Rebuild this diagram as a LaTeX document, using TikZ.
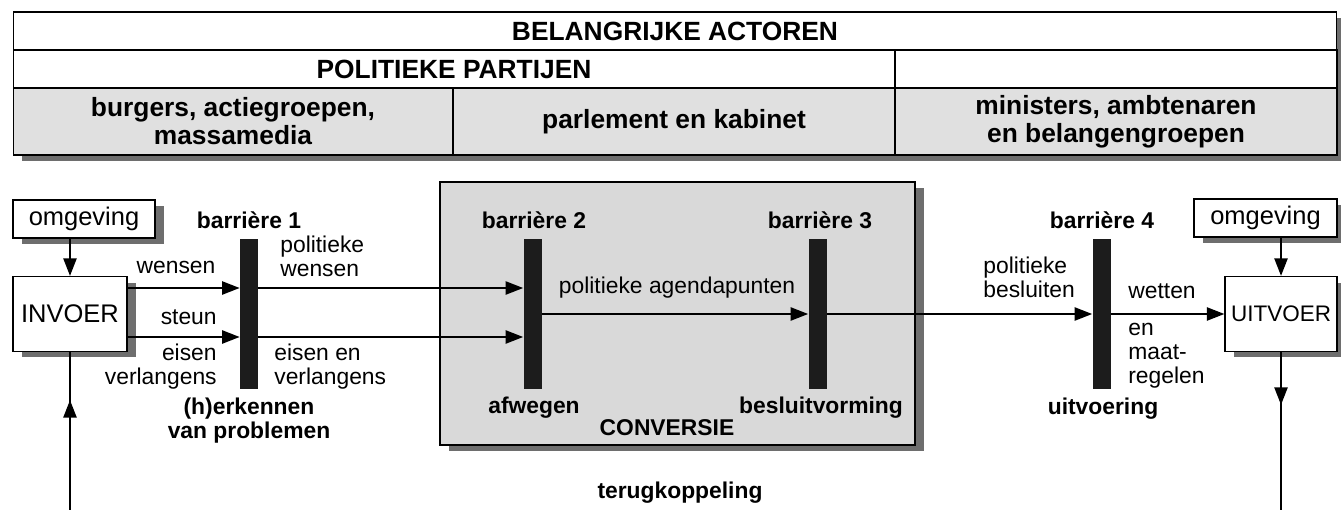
\documentclass[tikz,border=0pt]{standalone}
\usepackage{fontspec}
\setmainfont{Liberation Sans}
\usetikzlibrary{arrows.meta,positioning,shadows,decorations.markings}
\definecolor{CelGrijs}{HTML}{E0E0E0}
\definecolor{ConvGrijs}{HTML}{D9D9D9}
\definecolor{Schaduw}{HTML}{6E6E6E}
\definecolor{Balk}{HTML}{1C1C1C}
\tikzset{
  cel/.style={draw,line width=.6pt,inner sep=0pt,align=center,font=\fontsize{15}{16}\selectfont\bfseries},
  schaduw/.style={drop shadow={shadow xshift=.18cm,shadow yshift=-.12cm,fill=Schaduw,opacity=1}},
  box/.style={draw,fill=white,line width=.7pt,inner sep=0pt,schaduw,font=\fontsize{14.5}{16}\selectfont},
  balk/.style={fill=Balk,minimum width=.36cm,minimum height=3cm,inner sep=0pt},
  lbl/.style={inner sep=0pt,font=\fontsize{13}{13.7}\selectfont},
  blbl/.style={inner sep=0pt,align=center,font=\fontsize{13}{13.7}\selectfont\bfseries},
  flow/.style={-{Triangle[length=10pt,width=7.5pt]},line width=1.1pt},
  terug/.style={line width=1.1pt,postaction={decorate},decoration={markings,mark=at position #1 with {\arrow{Triangle[length=10pt,width=7.5pt]}}}},
}

\begin{document}
\begin{tikzpicture}[x=.02cm,y=-.02cm]
\useasboundingbox (0,0) rectangle (1341,510);
\node[cel,schaduw,fill=white,minimum width=26.48cm,minimum height=.76cm] (actoren) at (675,31) {BELANGRIJKE ACTOREN};
\node[cel,schaduw,fill=white,minimum width=17.64cm,minimum height=.76cm] (partijen) at (454,69) {POLITIEKE PARTIJEN};
\node[cel,schaduw,fill=white,minimum width=8.84cm,minimum height=.76cm] (leeg) at (1116,69) {};
\node[cel,schaduw,fill=CelGrijs,minimum width=8.8cm,minimum height=1.34cm] (burgers) at (233,121.5) {burgers, actiegroepen,\\massamedia};
\node[cel,schaduw,fill=CelGrijs,minimum width=8.84cm,minimum height=1.34cm] (parlement) at (674,121.5) {parlement en kabinet};
\node[cel,schaduw,fill=CelGrijs,minimum width=8.84cm,minimum height=1.34cm] (ministers) at (1116,121.5) {ministers, ambtenaren\\en belangengroepen};

\node[box,fill=ConvGrijs,minimum width=9.5cm,minimum height=5.26cm] (conversie) at (677.5,313.5) {};
\node[box,minimum width=2.84cm,minimum height=.76cm] (omgin) at (84,219) {omgeving};
\node[box,minimum width=2.86cm,minimum height=.76cm] (omguit) at (1265.5,218) {omgeving};
\node[box,minimum width=2.28cm,minimum height=1.5cm] (invoer) at (70,314) {INVOER};
\node[box,minimum width=2.24cm,minimum height=1.5cm,font=\fontsize{12.8}{15}\selectfont] (uitvoer) at (1281,314) {UITVOER};

\node[balk] (bar1) at (249,314) {};
\node[balk] (bar2) at (532.5,314) {};
\node[balk] (bar3) at (817.5,314) {};
\node[balk] (bar4) at (1101.5,314) {};

\node[blbl] (b1) at (249,220) {barrière 1};
\node[blbl] (b2) at (534,220) {barrière 2};
\node[blbl] (b3) at (820,220) {barrière 3};
\node[blbl] (b4) at (1102,220) {barrière 4};
\node[blbl] (herkennen) at (249,421) {(h)erkennen\\van problemen};
\node[blbl] (afwegen) at (534,408) {afwegen};
\node[blbl] (besluit) at (821,408) {besluitvorming};
\node[blbl] (uitvoering) at (1103,409) {uitvoering};
\node[blbl] (conv) at (667,428) {CONVERSIE};
\node[blbl] (terugk) at (680,493) {terugkoppeling};

\node[lbl] (wensen) at (176,267) {wensen};
\node[lbl,anchor=east] (steun) at (217,317) {steun};
\node[lbl,anchor=east,align=right] (eisen) at (217,366.5) {eisen\\verlangens};
\node[lbl,anchor=west,align=left] (polwensen) at (280,256) {politieke\\wensen};
\node[lbl,anchor=west,align=left] (eisenen) at (274,367) {eisen en\\verlangens};
\node[lbl] (agenda) at (677,288) {politieke agendapunten};
\node[lbl,anchor=west,align=left] (besluiten) at (983,277.5) {politieke\\besluiten};
\node[lbl,anchor=west] (wetten) at (1128,291) {wetten};
\node[lbl,anchor=west,align=left] (maatregelen) at (1128,356) {en\\maat-\\regelen};

\coordinate (terugin) at (70,512);
\coordinate (teruguit) at (1281,512);

\draw[flow] (omgin.south -| invoer) -- (invoer);
\draw[flow] (omguit.south -| uitvoer) -- (uitvoer);
\draw[flow] ([yshift=.52cm]invoer.east) -- ([yshift=.52cm]bar1.west);
\draw[flow] ([yshift=-.46cm]invoer.east) -- ([yshift=-.46cm]bar1.west);
\draw[flow] ([yshift=.52cm]bar1.east) -- ([yshift=.52cm]bar2.west);
\draw[flow] ([yshift=-.46cm]bar1.east) -- ([yshift=-.46cm]bar2.west);
\draw[flow] (bar2) -- (bar3);
\draw[flow] (bar3) -- (bar4);
\draw[flow] (bar4) -- (uitvoer);
\draw[terug=.7] (terugin) -- (invoer);
\draw[terug=.33] (uitvoer) -- (teruguit);
\end{tikzpicture}
\end{document}
